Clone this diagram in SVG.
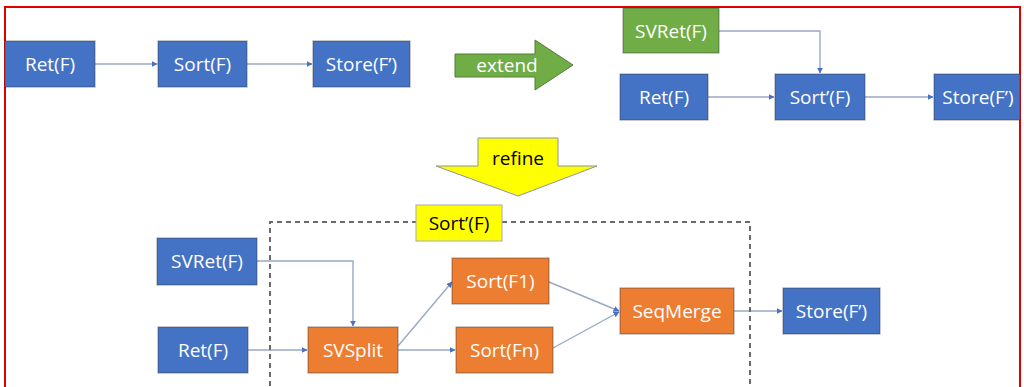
<svg xmlns="http://www.w3.org/2000/svg" width="1024" height="387" viewBox="0 0 1024 387">
<defs>
<style>
.n rect{stroke:#3a3a3a;stroke-opacity:.45;stroke-width:1.2}
.blue rect{fill:#4472C4}
.green rect{fill:#70AD47}
.orange rect{fill:#ED7D31}
.n text{fill:#fff;font-family:"Open Sans","Noto Sans",sans-serif;font-size:19px;text-anchor:middle;dominant-baseline:central}
.c path{fill:none;stroke:#9AA8C4;stroke-width:1.4;marker-end:url(#ah)}
.lbl{font-family:"Open Sans","Noto Sans",sans-serif;font-size:19px;text-anchor:middle;dominant-baseline:central}
</style>
<marker id="ah" viewBox="0 0 10 10" refX="9" refY="5" markerWidth="6" markerHeight="6" markerUnits="userSpaceOnUse" orient="auto">
<path d="M0,0 L10,5 L0,10 Z" fill="#4472C4"/>
</marker>
</defs>
<rect width="1024" height="387" fill="#fff"/>
<rect x="5" y="7" width="1015" height="400" fill="none" stroke="#E00000" stroke-width="2"/>

<g id="connectors" class="c">
<path d="M95,64 H157"/>
<path d="M247,64 H312"/>
<path d="M719,31 H820 V73"/>
<path d="M708,97 H774"/>
<path d="M865,97 H933"/>
<path d="M257,261 H353 V326"/>
<path d="M248,350 H307"/>
<path d="M398,346 L452,282"/>
<path d="M398,350 H455"/>
<path d="M549,282 L619,311"/>
<path d="M553,348 L619,312"/>
<path d="M734,311 H782"/>
</g>

<g id="top-ret" class="n blue"><rect x="5" y="41" width="90" height="46"/><text x="50" y="64">Ret(F)</text></g>
<g id="top-sort" class="n blue"><rect x="158" y="41" width="89" height="46"/><text x="202.5" y="64">Sort(F)</text></g>
<g id="top-store" class="n blue"><rect x="313" y="41" width="97" height="46"/><text x="361.5" y="64">Store(F’)</text></g>

<g id="extend">
<path d="M455,54 H535 V40 L573,65 L535,90 V77 H455 Z" fill="#70AD47" stroke="#507E32" stroke-width="1"/>
<text class="lbl" x="507" y="65" fill="#fff">extend</text>
</g>

<g id="r-svret" class="n green"><rect x="623" y="8" width="96" height="45"/><text x="671" y="31">SVRet(F)</text></g>
<g id="r-ret" class="n blue"><rect x="620" y="74" width="88" height="46"/><text x="664" y="97">Ret(F)</text></g>
<g id="r-sort" class="n blue"><rect x="775" y="74" width="90" height="46"/><text x="820" y="97">Sort’(F)</text></g>
<g id="r-store" class="n blue"><rect x="934" y="74" width="86" height="46"/><text x="978" y="97">Store(F’)</text></g>

<g id="refine">
<path d="M478,138 H558 V166 H597 L518,196 L436,166 H478 Z" fill="#FFFF00" stroke="#8A94A8" stroke-width="1"/>
<text class="lbl" x="518" y="158" fill="#000">refine</text>
</g>

<g id="group-sort">
<path d="M270,386 V222 H750 V386" fill="none" stroke="#6a6a6a" stroke-width="2" stroke-dasharray="5 4"/>
<rect x="416" y="205" width="86" height="36" fill="#FFFF00" stroke="#aaa" stroke-width="1"/>
<text class="lbl" x="459" y="223" fill="#000">Sort’(F)</text>
</g>

<g id="b-svret" class="n blue"><rect x="157" y="238" width="100" height="47"/><text x="207" y="261">SVRet(F)</text></g>
<g id="b-ret" class="n blue"><rect x="158" y="327" width="90" height="46"/><text x="203" y="350">Ret(F)</text></g>
<g id="b-svsplit" class="n orange"><rect x="308" y="327" width="90" height="46"/><text x="353" y="350">SVSplit</text></g>
<g id="b-sortf1" class="n orange"><rect x="452" y="258" width="97" height="46"/><text x="500.5" y="281">Sort(F1)</text></g>
<g id="b-sortfn" class="n orange"><rect x="456" y="327" width="97" height="46"/><text x="504.5" y="350">Sort(Fn)</text></g>
<g id="b-seqmerge" class="n orange"><rect x="620" y="288" width="114" height="46"/><text x="677" y="311">SeqMerge</text></g>
<g id="b-store" class="n blue"><rect x="783" y="288" width="97" height="46"/><text x="831.5" y="311">Store(F’)</text></g>
</svg>
